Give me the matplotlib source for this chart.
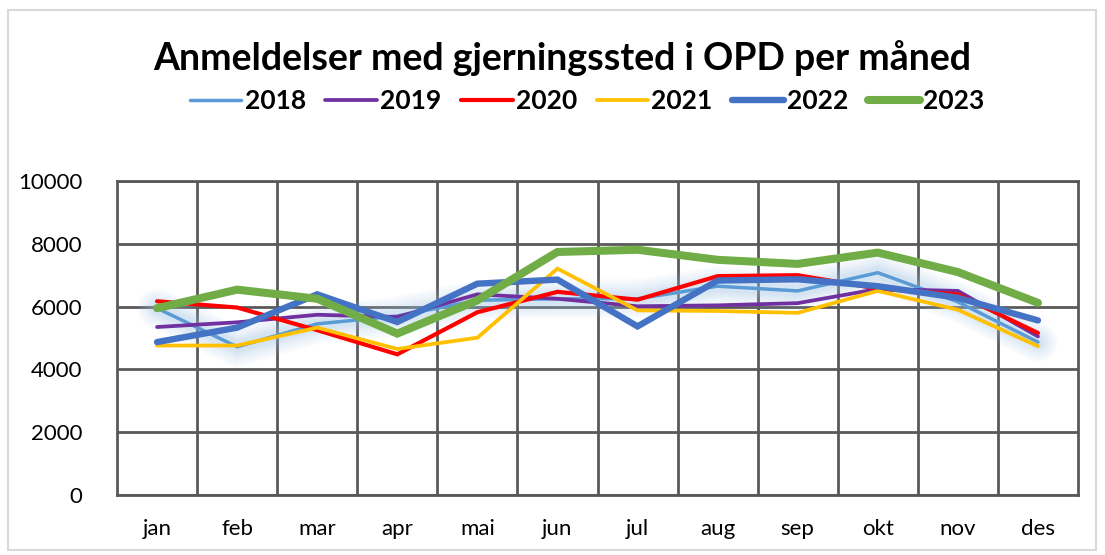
import matplotlib
matplotlib.use("Agg")
import matplotlib.pyplot as plt
import matplotlib.patheffects as pe
from matplotlib.lines import Line2D
from matplotlib.patches import Rectangle

months = ["jan", "feb", "mar", "apr", "mai", "jun", "jul", "aug", "sep", "okt", "nov", "des"]
years = ["2018", "2019", "2020", "2021", "2022", "2023"]

v2018 = [5950, 4720, 5450, 5700, 6200, 6250, 6250, 6650, 6500, 7080, 6150, 4870]
v2019 = [5350, 5500, 5740, 5670, 6390, 6250, 6010, 6040, 6110, 6560, 6500, 5050]
v2020 = [6170, 5970, 5250, 4480, 5820, 6470, 6220, 6970, 7000, 6570, 6390, 5160]
v2021 = [4760, 4760, 5330, 4650, 5010, 7210, 5880, 5860, 5800, 6500, 5900, 4740]
v2022 = [4870, 5330, 6390, 5510, 6730, 6860, 5370, 6830, 6870, 6650, 6280, 5560]
v2023 = [5950, 6540, 6250, 5140, 6200, 7740, 7810, 7490, 7360, 7720, 7100, 6120]

series = [v2018, v2019, v2020, v2021, v2022, v2023]
colors = ["#5B9BD5", "#7030A0", "#FF0000", "#FFC000", "#4472C4", "#70AD47"]
widths = [2.5, 2.7, 3.0, 2.7, 4.6, 5.8]

plt.rcParams["font.family"] = ["Lato", "DejaVu Sans"]

fig = plt.figure(figsize=(11.05, 5.55), dpi=100)
fig.patches.append(Rectangle((8 / 1105, 5 / 555), 1088 / 1105, 540 / 555,
                             transform=fig.transFigure, fill=False,
                             edgecolor="#D9D9D9", lw=1.5))
ax = fig.add_axes([117 / 1105, 60 / 555, 961 / 1105, 314 / 555])

# soft glow behind the 2018 series
glow = [pe.Stroke(linewidth=w, foreground="#9DC3E6", alpha=0.07)
        for w in (28, 24, 20, 16, 13, 10, 8)] + [pe.Normal()]

x = list(range(len(months)))
handles = []
for i, (vals, c, w, lab) in enumerate(zip(series, colors, widths, years)):
    ax.plot(x, vals, color=c, lw=w, solid_capstyle="round", solid_joinstyle="miter",
            zorder=3 + i, path_effects=glow if lab == "2018" else None)
    handles.append(Line2D([], [], color=c, lw=w, solid_capstyle="round", label=lab))

ax.set_xlim(-0.5, len(months) - 0.5)
ax.set_ylim(0, 10000)
ax.set_yticks(range(0, 10001, 2000))
ax.set_xticks(x)
ax.set_xticklabels(months)
ax.set_xticks([i + 0.5 for i in range(len(months) - 1)], minor=True)
ax.tick_params(axis="both", which="both", length=0, labelsize=16, colors="#000000")
ax.tick_params(axis="x", pad=17)
ax.tick_params(axis="y", pad=25)
ax.grid(True, axis="y", which="major", color="#595959", lw=2)
ax.grid(True, axis="x", which="minor", color="#595959", lw=2)
ax.set_axisbelow(True)
for s in ax.spines.values():
    s.set_color("#595959")
    s.set_linewidth(2)

fig.text(562 / 1105, 1 - 58 / 555, "Anmeldelser med gjerningssted i OPD per måned",
         ha="center", va="center", fontsize=27, fontweight="bold")
fig.legend(handles=handles, loc="center", bbox_to_anchor=(587 / 1105, 1 - 101 / 555),
           ncol=6, frameon=False, prop={"size": 19, "weight": "bold"},
           handlelength=1.95, handletextpad=0.12, columnspacing=0.75)

fig.savefig("out.png", dpi=100)
